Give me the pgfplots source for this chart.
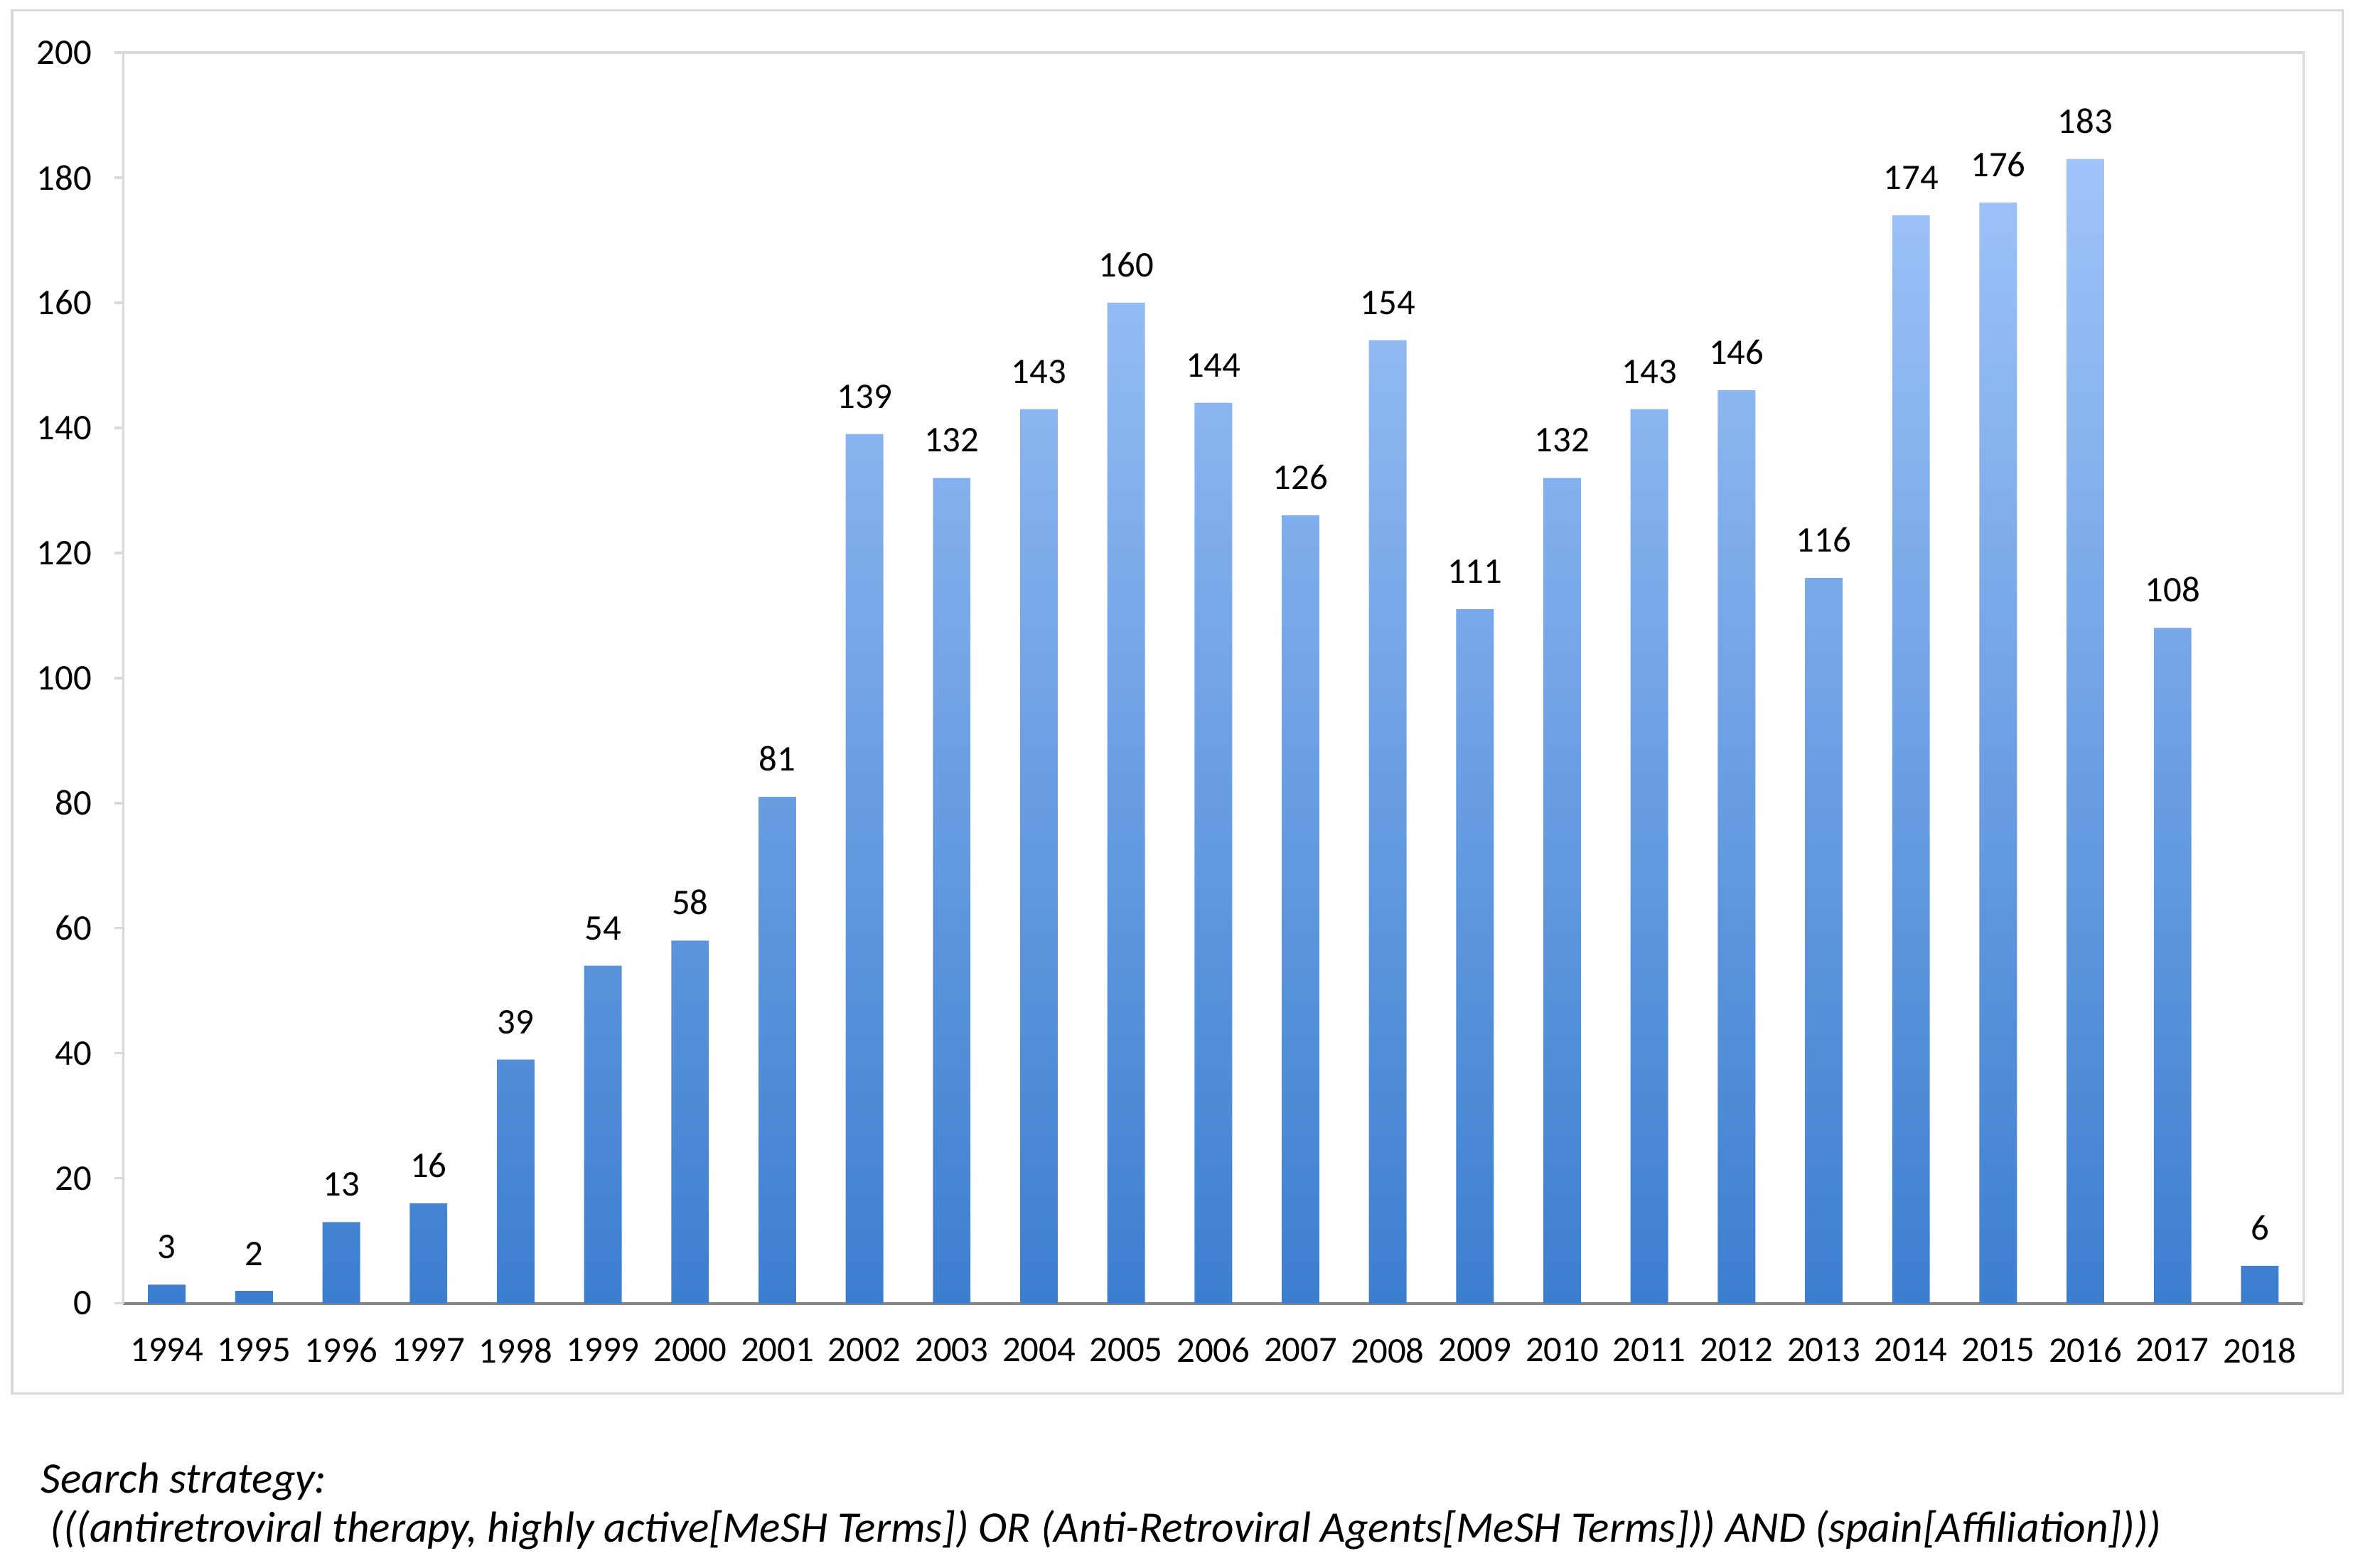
\documentclass[border=0pt]{standalone}
\usepackage{pgfplots}
\pgfplotsset{compat=1.18}
\usepackage{fontspec}
\setmainfont{Carlito}
\definecolor{bartop}{HTML}{A0C4F9}
\definecolor{barbot}{HTML}{3C7ECF}
\definecolor{framegray}{HTML}{D9D9D9}
\definecolor{axgray}{HTML}{868686}
\begin{document}
\begin{tikzpicture}
\path (0pt,0pt) rectangle (782.5pt,521.5pt);
\draw[framegray, line width=0.8pt] (4pt,58pt) rectangle (779pt,518pt);
\begin{axis}[
  at={(41pt,88pt)}, anchor=south west,
  scale only axis, width=725pt, height=416pt,
  xmin=-0.5, xmax=24.5, ymin=0, ymax=200,
  axis x line*=bottom, axis y line*=left,
  x axis line style={-, axgray, line width=0.9pt},
  y axis line style={-, framegray, line width=0.8pt},
  xtick={0,...,24},
  xticklabels={1994,1995,1996,1997,1998,1999,2000,2001,2002,2003,2004,2005,2006,2007,2008,2009,2010,2011,2012,2013,2014,2015,2016,2017,2018},
  x tick style={draw=none},
  minor xtick={-0.5,0.5,...,24.5},
  minor x tick style={axgray, line width=0.8pt},
  minor tick length=4pt,
  tick align=outside,
  ytick={0,20,...,200},
  y tick style={framegray, line width=0.8pt},
  major tick length=3pt,
  /pgf/number format/assume math mode=true,
  tick label style={font=\fontsize{12}{14}\selectfont, black},
  xticklabel style={yshift=-5pt},
  yticklabel style={xshift=-4pt},
  clip=false,
]
\draw[framegray, line width=0.8pt] (rel axis cs:0,1) -- (rel axis cs:1,1) -- (rel axis cs:1,0);
\addplot[ybar, bar width=12.5pt, draw=none, top color=bartop, bottom color=barbot,
  nodes near coords,
  every node near coord/.append style={font=\fontsize{12}{14}\selectfont, black, yshift=5pt},
] coordinates {
(0,3) (1,2) (2,13) (3,16) (4,39) (5,54) (6,58) (7,81) (8,139) (9,132)
(10,143) (11,160) (12,144) (13,126) (14,154) (15,111) (16,132) (17,143)
(18,146) (19,116) (20,174) (21,176) (22,183) (23,108) (24,6)
};
\end{axis}
\node[anchor=base west, inner sep=0pt, font=\fontsize{14.5}{16}\selectfont\itshape] at (13.5pt,25pt) {Search strategy:};
\node[anchor=base west, inner sep=0pt, font=\fontsize{14.5}{16}\selectfont\itshape] at (16.5pt,8.5pt) {(((antiretroviral therapy, highly active[MeSH Terms]) OR (Anti-Retroviral Agents[MeSH Terms])) AND (spain[Affiliation])))};
\end{tikzpicture}
\end{document}
